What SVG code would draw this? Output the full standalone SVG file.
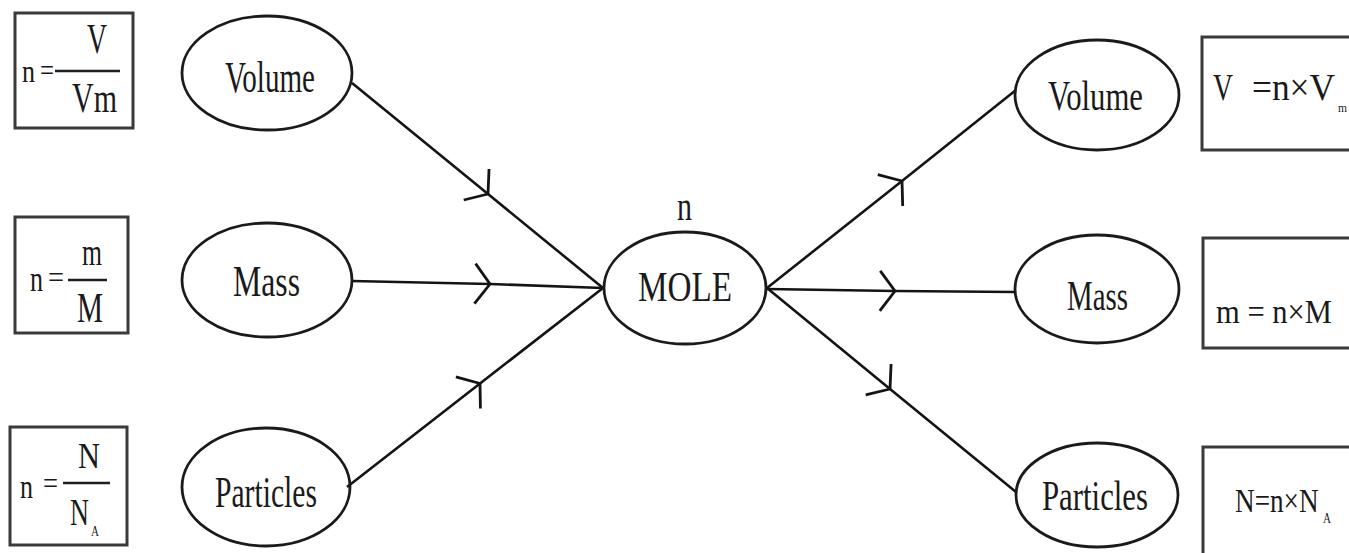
<svg xmlns="http://www.w3.org/2000/svg" width="1349" height="553" viewBox="0 0 1349 553">
<style>
.t{font-family:"Liberation Serif","Times New Roman",serif;fill:#1a1a1a}
.ell{fill:none;stroke:#1a1a1a;stroke-width:2.8}
.box{fill:none;stroke:#3a3a3a;stroke-width:3}
.fr{stroke:#1e1e1e;stroke-width:2.4}
.con{fill:none;stroke:#141414;stroke-width:2.6}
</style>
<defs>
<marker id="chev" markerUnits="userSpaceOnUse" orient="auto" refX="0" refY="0" markerWidth="40" markerHeight="50" viewBox="-20 -25 40 50" overflow="visible">
<path d="M-15,-20 L0,0 L-15,20" fill="none" stroke="#141414" stroke-width="2.8"/>
</marker>
</defs>
<rect width="1349" height="553" fill="#ffffff"/>

<g id="connectors">
<path class="con" d="M352,83 L488,194 L603,288" marker-mid="url(#chev)"/>
<path class="con" d="M352,281 L490,284 L603,288" marker-mid="url(#chev)"/>
<path class="con" d="M347,487 L480,383.5 L603,288" marker-mid="url(#chev)"/>
<path class="con" d="M767,288 L902,181 L1016,90" marker-mid="url(#chev)"/>
<path class="con" d="M767,289 L895,291 L1015,292" marker-mid="url(#chev)"/>
<path class="con" d="M767,288 L890,389 L1016,492" marker-mid="url(#chev)"/>
</g>

<g id="formula-volume-left">
<rect class="box" x="15" y="13" width="118" height="115"/>
<text class="t" x="22" y="82" font-size="32" textLength="13" lengthAdjust="spacingAndGlyphs">n</text>
<text class="t" x="40" y="81" font-size="32" textLength="14" lengthAdjust="spacingAndGlyphs">=</text>
<line class="fr" x1="55" y1="71" x2="120" y2="71"/>
<text class="t" x="87" y="53" font-size="42" textLength="20" lengthAdjust="spacingAndGlyphs">V</text>
<text class="t" x="72" y="112" font-size="42" textLength="45" lengthAdjust="spacingAndGlyphs">Vm</text>
</g>

<g id="formula-mass-left">
<rect class="box" x="15" y="217" width="113" height="116"/>
<text class="t" x="30" y="291" font-size="36" textLength="13" lengthAdjust="spacingAndGlyphs">n</text>
<text class="t" x="48" y="288" font-size="32" textLength="16" lengthAdjust="spacingAndGlyphs">=</text>
<line class="fr" x1="68" y1="280" x2="107" y2="280"/>
<text class="t" x="82" y="265" font-size="38" textLength="20" lengthAdjust="spacingAndGlyphs">m</text>
<text class="t" x="77" y="322" font-size="42" textLength="26" lengthAdjust="spacingAndGlyphs">M</text>
</g>

<g id="formula-particles-left">
<rect class="box" x="10" y="427" width="117" height="118"/>
<text class="t" x="20" y="498" font-size="34" textLength="13" lengthAdjust="spacingAndGlyphs">n</text>
<text class="t" x="43" y="494" font-size="32" textLength="15" lengthAdjust="spacingAndGlyphs">=</text>
<line class="fr" x1="63" y1="483" x2="110" y2="483"/>
<text class="t" x="78" y="468" font-size="36" textLength="22" lengthAdjust="spacingAndGlyphs">N</text>
<text class="t" font-size="38" transform="translate(70,525) scale(0.69,1)">N</text>
<text class="t" x="91" y="536" font-size="14" textLength="8" lengthAdjust="spacingAndGlyphs">A</text>
</g>

<g id="volume-left">
<ellipse class="ell" cx="267" cy="73" rx="85" ry="57"/>
<text class="t" x="225" y="92" font-size="44" textLength="90" lengthAdjust="spacingAndGlyphs">Volume</text>
</g>
<g id="mass-left">
<ellipse class="ell" cx="267" cy="280" rx="85" ry="57"/>
<text class="t" x="233" y="296" font-size="44" textLength="67" lengthAdjust="spacingAndGlyphs">Mass</text>
</g>
<g id="particles-left">
<ellipse class="ell" cx="266" cy="487" rx="84" ry="59"/>
<text class="t" x="215" y="507" font-size="44" textLength="102" lengthAdjust="spacingAndGlyphs">Particles</text>
</g>

<g id="mole">
<text class="t" x="677" y="220" font-size="40" textLength="15" lengthAdjust="spacingAndGlyphs">n</text>
<ellipse class="ell" cx="685" cy="288" rx="81" ry="56"/>
<text class="t" x="638" y="301" font-size="42" textLength="94" lengthAdjust="spacingAndGlyphs">MOLE</text>
</g>

<g id="volume-right">
<ellipse class="ell" cx="1097" cy="95" rx="82" ry="55"/>
<text class="t" x="1048" y="110" font-size="42" textLength="95" lengthAdjust="spacingAndGlyphs">Volume</text>
</g>
<g id="mass-right">
<ellipse class="ell" cx="1097" cy="289" rx="82" ry="54"/>
<text class="t" x="1067" y="310" font-size="42" textLength="61" lengthAdjust="spacingAndGlyphs">Mass</text>
</g>
<g id="particles-right">
<ellipse class="ell" cx="1097" cy="495" rx="81" ry="52"/>
<text class="t" x="1042" y="510" font-size="42" textLength="106" lengthAdjust="spacingAndGlyphs">Particles</text>
</g>

<g id="formula-volume-right">
<rect class="box" x="1202" y="37" width="170" height="113"/>
<text class="t" x="1213" y="100" font-size="38" textLength="20" lengthAdjust="spacingAndGlyphs">V</text>
<text class="t" font-size="38" transform="translate(1252,100) scale(0.93,1)">=n×V</text>
<text class="t" x="1338" y="112" font-size="13" textLength="9" lengthAdjust="spacingAndGlyphs">m</text>
</g>
<g id="formula-mass-right">
<rect class="box" x="1203" y="238" width="170" height="110"/>
<text class="t" x="1216" y="323" font-size="33" textLength="116" lengthAdjust="spacingAndGlyphs">m = n×M</text>
</g>
<g id="formula-particles-right">
<rect class="box" x="1203" y="447" width="170" height="130"/>
<text class="t" font-size="34" transform="translate(1235,512) scale(0.8,1)">N=n×N</text>
<text class="t" x="1323" y="523" font-size="14" textLength="8" lengthAdjust="spacingAndGlyphs">A</text>
</g>
</svg>
